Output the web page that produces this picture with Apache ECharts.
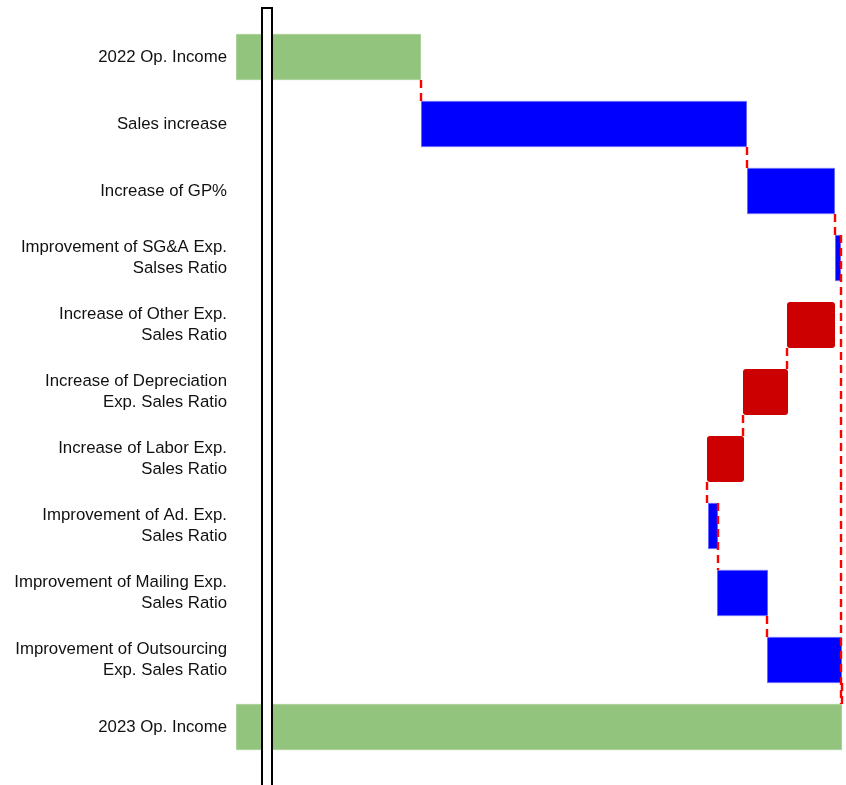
<!DOCTYPE html>
<html>
<head>
<meta charset="utf-8">
<script src="https://cdn.jsdelivr.net/npm/echarts@6/dist/echarts.min.js"></script>
<style>
  html, body { margin: 0; padding: 0; background: #fff; }
  #chart { width: 846px; height: 785px; }
</style>
</head>
<body>
<div id="chart"></div>
<script>
// Operating income bridge, 2022 -> 2023 (units on a broken axis)
const categories = [
  '2022 Op. Income',
  'Sales increase',
  'Increase of GP%',
  'Improvement of SG&A Exp.\nSalses Ratio',
  'Increase of Other Exp.\nSales Ratio',
  'Increase of Depreciation\nExp. Sales Ratio',
  'Increase of Labor Exp.\nSales Ratio',
  'Improvement of Ad. Exp.\nSales Ratio',
  'Improvement of Mailing Exp.\nSales Ratio',
  'Improvement of Outsourcing\nExp. Sales Ratio',
  '2023 Op. Income'
];
// where each bar starts and ends on the value axis
const barFrom = [0, 185, 511, 599, 599, 552, 508, 472, 481, 531, 0];
const barTo   = [185, 511, 599, 605, 551, 507, 471, 482, 532, 606, 606];
// kind of each step: total, gain, loss
const barKind = ['total', 'gain', 'gain', 'gain', 'loss', 'loss', 'loss', 'gain', 'gain', 'gain', 'total'];

// dashed connectors: [value, from row, to row, start at top edge of from row (1) or bottom (0)]
const connectors = [
  [185, 0, 1, 0],
  [511, 1, 2, 0],
  [599, 2, 3, 0],
  [605, 3, 10, 1],
  [551, 4, 5, 0],
  [507, 5, 6, 0],
  [471, 6, 7, 0],
  [482, 7, 8, 1],
  [531, 8, 9, 0],
  [606, 9, 10, 0]
];

const axisMin = 0;
const axisMax = 610;
const barRatio = 46 / 67;

const styles = {
  total: { color: '#93c47d', borderColor: '#a9d197', borderWidth: 1, borderRadius: 0 },
  gain:  { color: '#0000ff', borderColor: '#6666ff', borderWidth: 1, borderRadius: 0 },
  loss:  { color: '#cc0000', borderColor: '#cc0000', borderWidth: 0, borderRadius: 3 }
};

const baseData = barFrom.map((f, i) => Math.min(f, barTo[i]));
const sizeData = barFrom.map((f, i) => ({
  value: Math.abs(barTo[i] - f),
  itemStyle: styles[barKind[i]]
}));

const chart = echarts.init(document.getElementById('chart'), null, { renderer: 'canvas' });

chart.setOption({
  animation: false,
  backgroundColor: '#ffffff',
  grid: { left: 236, right: 0, top: 23.5, bottom: 24.5, containLabel: false },
  xAxis: {
    type: 'value',
    min: axisMin,
    max: axisMax,
    show: false
  },
  yAxis: {
    type: 'category',
    data: categories,
    inverse: true,
    axisLine: { show: false },
    axisTick: { show: false },
    splitLine: { show: false },
    axisLabel: {
      margin: 9,
      fontFamily: 'Liberation Sans, Arial, sans-serif',
      fontSize: 16.8,
      color: '#111111',
      lineHeight: 21,
      align: 'right'
    }
  },
  series: [
    {
      type: 'bar',
      stack: 'bridge',
      data: baseData,
      itemStyle: { color: 'transparent' },
      barCategoryGap: '31%',
      silent: true
    },
    {
      type: 'bar',
      stack: 'bridge',
      data: sizeData,
      barCategoryGap: '31%'
    },
    {
      type: 'custom',
      data: connectors,
      encode: { x: 0, y: [1, 2] },
      z: 5,
      renderItem: function (params, api) {
        const v = api.value(0);
        const fromRow = api.value(1);
        const toRow = api.value(2);
        const fromTop = api.value(3);
        const p1 = api.coord([v, fromRow]);
        const p2 = api.coord([v, toRow]);
        const half = api.size([0, 1])[1] * barRatio / 2;
        const y1 = fromTop ? p1[1] - half : p1[1] + half;
        const y2 = p2[1] - half;
        return {
          type: 'line',
          shape: { x1: p1[0], y1: y1, x2: p2[0], y2: y2 },
          style: { stroke: '#ff0000', lineWidth: 2.4, lineDash: [8, 5] }
        };
      }
    }
  ],
  graphic: [
    {
      type: 'rect',
      z: 100,
      shape: { x: 262, y: 8, width: 10, height: 785 },
      style: { fill: '#ffffff', stroke: '#000000', lineWidth: 2 }
    }
  ]
});
</script>
</body>
</html>
